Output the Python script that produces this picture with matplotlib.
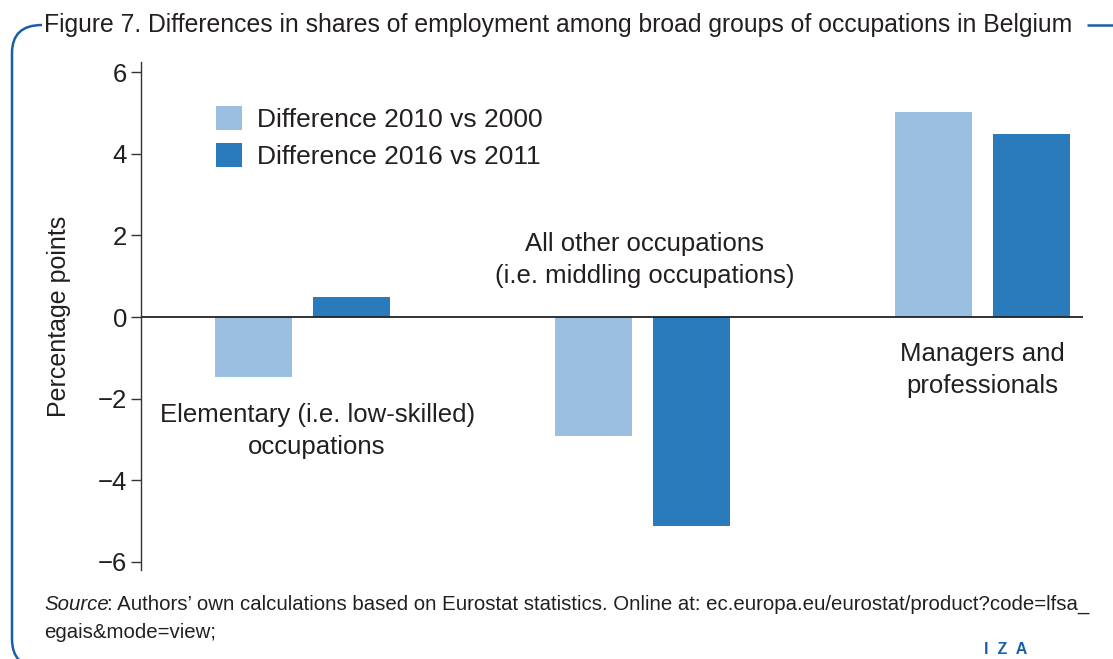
import numpy as np
import matplotlib
matplotlib.use("Agg")
import matplotlib.pyplot as plt
from matplotlib.path import Path
from matplotlib.patches import PathPatch
from matplotlib import transforms

plt.rcParams['font.family'] = ['Liberation Sans', 'DejaVu Sans']

# data
groups = ['Elementary (i.e. low-skilled)\noccupations',
          'All other occupations\n(i.e. middling occupations)',
          'Managers and\nprofessionals']
diff_2010_2000 = [-1.47, -2.92, 5.02]
diff_2016_2011 = [0.49, -5.12, 4.49]
series_names = ['Difference 2010 vs 2000', 'Difference 2016 vs 2011']
yticks = [-6, -4, -2, 0, 2, 4, 6]

light = '#9bbfe0'
dark = '#2a7bbb'
frame_blue = '#1b5ea8'
txt = '#231f20'

fig = plt.figure(figsize=(11.13, 6.59), dpi=100)
ax = fig.add_axes([141/1113, 1-570/659, (1083-141)/1113, (570-62)/659])

x = np.arange(len(groups))
w = 0.226
off = 0.144
ax.bar(x - off, diff_2010_2000, w, color=light, label=series_names[0], zorder=2)
ax.bar(x + off, diff_2016_2011, w, color=dark, label=series_names[1], zorder=2)
ax.axhline(0, color='#222222', lw=1.3, zorder=3)

ax.set_xlim(-0.475, 2.296)
ax.set_ylim(-6.2, 6.25)
ax.set_yticks(yticks)
ax.set_yticklabels([str(t).replace('-', '\u2212') for t in yticks])
ax.tick_params(axis='y', direction='out', length=7, width=1, color='#333333',
               labelsize=18.5, labelcolor=txt, pad=3)
ax.set_xticks([])
for s in ['top', 'right', 'bottom']:
    ax.spines[s].set_visible(False)
ax.spines['left'].set_color('#333333')
ax.spines['left'].set_linewidth(1)
ax.set_ylabel('Percentage points', fontsize=18, color=txt, labelpad=19)

# group labels
label_pos = [(0.043, -2.8), (1.007, 1.4), (2.0, -1.3)]
for g, (gx, gy) in zip(groups, label_pos):
    ax.text(gx, gy, g, ha='center', va='center', fontsize=18.5, color=txt,
            linespacing=1.42)

leg = ax.legend(loc='upper left', bbox_to_anchor=(0.0796, 0.913), frameon=False,
                fontsize=19, handlelength=1.0, handleheight=1.0,
                handletextpad=0.57, labelspacing=0.42, borderpad=0,
                borderaxespad=0)
for t in leg.get_texts():
    t.set_color(txt)

# frame around figure (pixel coords, origin bottom-left)
px = transforms.Affine2D().scale(1/100) + fig.dpi_scale_trans
r = 28
top = 659 - 25
verts = [(42, top), (12, top), (12, top - r),
         (12, 20), (12, -8), (12 + r, -8)]
codes = [Path.MOVETO, Path.CURVE3, Path.CURVE3,
         Path.LINETO, Path.CURVE3, Path.CURVE3]
fig.add_artist(PathPatch(Path(verts, codes), fill=False, ec=frame_blue,
                         lw=1.8, transform=px, clip_on=False))
fig.add_artist(PathPatch(Path([(1087, top), (1115, top)]), fill=False,
                         ec=frame_blue, lw=1.8, transform=px, clip_on=False))

fig.text(44/1113, 1-25/659,
         'Figure 7. Differences in shares of employment among broad groups of occupations in Belgium',
         ha='left', va='center', fontsize=17.8, color=txt)

src = fig.text(44/1113, 1-605/659, 'Source', style='italic', ha='left',
               va='center', fontsize=14.7, color=txt)
ann = plt.annotate(': Authors\u2019 own calculations based on Eurostat statistics. Online at: ec.europa.eu/eurostat/product?code=lfsa_',
                   xy=(1, 0), xycoords=src, xytext=(-1.5, 0),
                   textcoords='offset points', ha='left', va='bottom',
                   fontsize=14.7, color=txt, annotation_clip=False)
fig.text(44/1113, 1-633/659, 'egais&mode=view;', ha='left', va='center',
         fontsize=14.7, color=txt)
fig.text(1006/1113, 1-649/659, 'I  Z  A', ha='center', va='center',
         fontsize=11.5, fontweight='bold', color=frame_blue)

fig.savefig('out.png', dpi=100)
